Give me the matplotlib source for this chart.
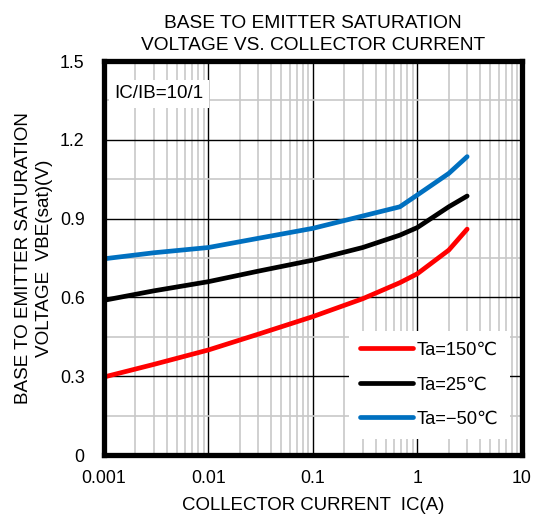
import numpy as np
from matplotlib import pyplot as plt
from matplotlib.ticker import FixedLocator, LogLocator, NullFormatter

plt.rcParams['font.family'] = ['Liberation Sans', 'DejaVu Sans']

# collector current (A)
ic = [0.001, 0.003, 0.01, 0.03, 0.1, 0.3, 0.68, 1, 2, 3]
# VBE(sat) (V)
vbe_150 = [0.297, 0.345, 0.40, 0.46, 0.527, 0.595, 0.656, 0.69, 0.78, 0.86]
vbe_25 = [0.589, 0.625, 0.66, 0.70, 0.742, 0.79, 0.837, 0.866, 0.945, 0.986]
vbe_m50 = [0.747, 0.77, 0.79, 0.825, 0.863, 0.91, 0.945, 0.99, 1.072, 1.136]
labels = ['Ta=150\u2103', 'Ta=25\u2103', 'Ta=\u221250\u2103']

fig = plt.figure(figsize=(5.39, 5.15), dpi=100)
ax = fig.add_axes([0.193, 0.1165, 0.775, 0.765])

ax.plot(ic, vbe_150, color='#ff0000', lw=3.4, label=labels[0], solid_capstyle='round', zorder=3)
ax.plot(ic, vbe_25, color='black', lw=3.4, label=labels[1], solid_capstyle='round', zorder=3)
ax.plot(ic, vbe_m50, color='#0070c0', lw=3.4, label=labels[2], solid_capstyle='round', zorder=3)

ax.set_xscale('log')
ax.set_xlim(0.001, 10)
ax.set_ylim(0, 1.5)
ax.xaxis.set_major_locator(FixedLocator([0.001, 0.01, 0.1, 1, 10]))
ax.xaxis.set_minor_locator(LogLocator(base=10, subs=np.arange(2, 10)))
ax.xaxis.set_minor_formatter(NullFormatter())
ax.set_xticklabels(['0.001', '0.01', '0.1', '1', '10'])
ax.yaxis.set_major_locator(FixedLocator([0, 0.3, 0.6, 0.9, 1.2, 1.5]))
ax.yaxis.set_minor_locator(FixedLocator([0.15, 0.45, 0.75, 1.05, 1.35]))
ax.set_yticklabels(['0', '0.3', '0.6', '0.9', '1.2', '1.5'])

ax.grid(which='minor', color='#c8c8c8', lw=1.2)
ax.grid(which='major', color='black', lw=1.0)
ax.set_axisbelow(True)
ax.tick_params(which='both', length=0, labelsize=12.8)
ax.tick_params(axis='x', pad=11)
ax.tick_params(axis='y', pad=14)
for s in ax.spines.values():
    s.set_linewidth(3.8)
    s.set_zorder(5)

ax.set_title('BASE TO EMITTER SATURATION\nVOLTAGE VS. COLLECTOR CURRENT', fontsize=13.8, pad=8, linespacing=1.35)
ax.set_xlabel('COLLECTOR CURRENT  IC(A)', fontsize=13.4, labelpad=7)
ax.set_ylabel('BASE TO EMITTER SATURATION\nVOLTAGE  VBE(sat)(V)', fontsize=13.6, labelpad=5, linespacing=1.3)

ax.text(0.00125, 1.375, 'IC/IB=10/1', fontsize=13.5, va='center', ha='left',
        bbox=dict(facecolor='white', edgecolor='none', pad=4), zorder=4)

leg = ax.legend(loc='lower left', bbox_to_anchor=(0.565, 0.018, 0.42, 0.26), fontsize=13.2,
                frameon=True, fancybox=False, handlelength=2.9, handletextpad=0.2,
                labelspacing=0.95, borderpad=0.6)
leg.get_frame().set_facecolor('white')
leg.get_frame().set_edgecolor('none')
leg.get_frame().set_alpha(1)
leg.set_zorder(4)

plt.savefig('out.png', dpi=100)
